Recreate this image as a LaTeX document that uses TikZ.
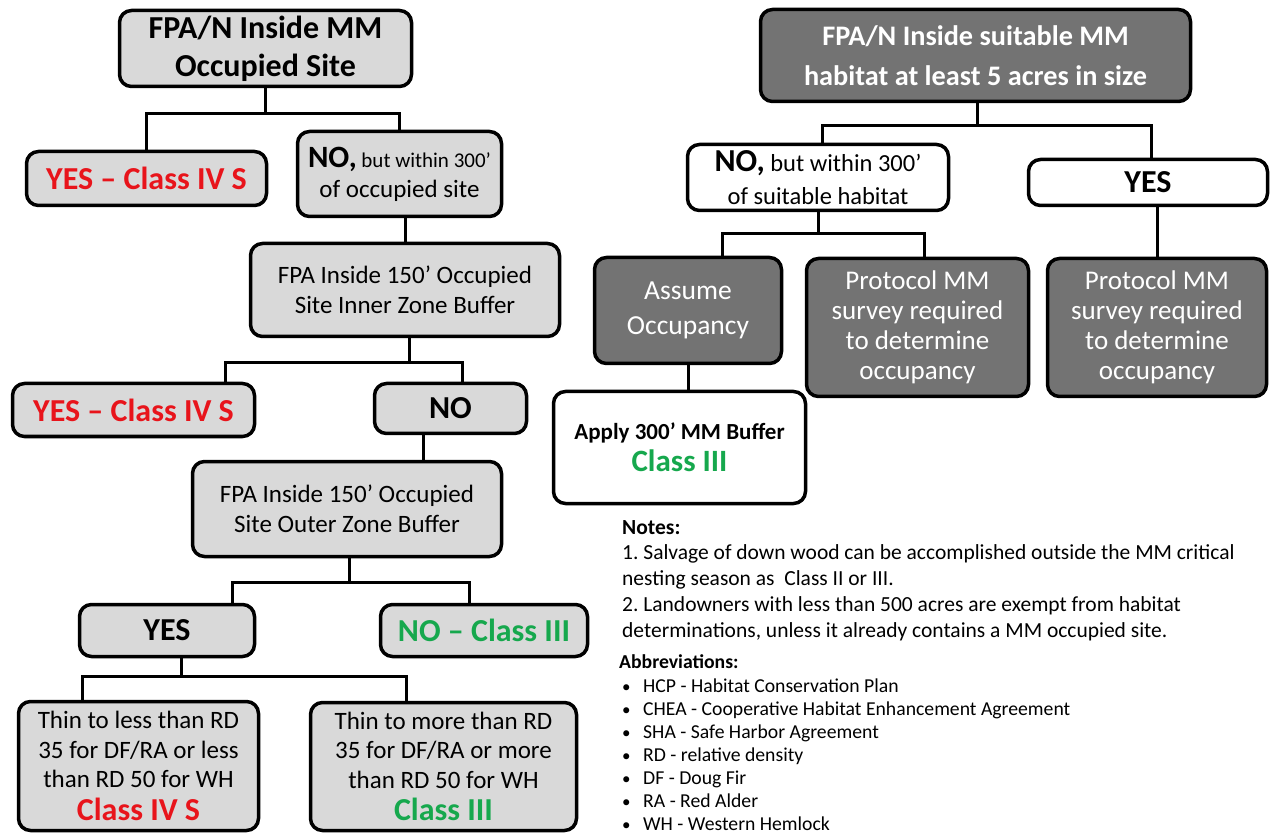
\documentclass[tikz,border=0pt]{standalone}
\usepackage{fontspec}
\setmainfont{Carlito}
\frenchspacing
\definecolor{boxgray}{HTML}{D9D9D9}
\definecolor{boxdark}{HTML}{737373}
\definecolor{classred}{HTML}{E8141B}
\definecolor{classgreen}{HTML}{16A84D}
\newcommand{\bigbold}{\fontsize{32}{38}\selectfont\bfseries}
\newcommand{\midtext}{\fontsize{25}{30}\selectfont}
\begin{document}
\begin{tikzpicture}[x=1pt, y=-1pt,
    box/.style={draw, line width=3.5pt, rounded corners=12pt, align=center, inner sep=0pt},
    greybox/.style={box, fill=boxgray},
    darkbox/.style={box, fill=boxdark, text=white},
    whitebox/.style={box, fill=white},
    link/.style={line width=3pt},
    noteline/.style={anchor=base west, inner sep=0pt, font=\fontsize{21.5}{25}\selectfont},
    abbrline/.style={anchor=base west, inner sep=0pt, font=\fontsize{19.7}{23}\selectfont}]
  \useasboundingbox (0,0) rectangle (1270,834);

  % occupied site tree
  \node[greybox, minimum width=292, minimum height=76, font=\bigbold] (occ) at (265.5,48.5) {FPA/N Inside MM\\Occupied Site};
  \node[greybox, minimum width=240, minimum height=54, font=\bigbold, text=classred] (yesA) at (146.5,178.5) {YES – Class IV S};
  \node[greybox, minimum width=204, minimum height=85, font=\midtext] (noA) at (399.5,174) {{\fontsize{31}{31}\selectfont\bfseries NO,}{\fontsize{21}{25}\selectfont{} but within 300’}\\of occupied site};
  \node[greybox, minimum width=309, minimum height=93, font=\midtext] (inner) at (405,290) {FPA Inside 150’ Occupied\\Site Inner Zone Buffer};
  \node[greybox, minimum width=242, minimum height=53, font=\bigbold, text=classred] (yesB) at (133.5,410) {YES – Class IV S};
  \node[greybox, minimum width=152, minimum height=50, font=\bigbold] (noB) at (450.5,408.5) {NO};
  \node[greybox, minimum width=309, minimum height=95, font=\midtext] (outer) at (347,509) {FPA Inside 150’ Occupied\\Site Outer Zone Buffer};
  \node[greybox, minimum width=175, minimum height=52, font=\bigbold] (yesC) at (167,630.5) {YES};
  \node[greybox, minimum width=207, minimum height=52, font=\bigbold, text=classgreen] (noC) at (484,630.5) {NO – Class III};
  \node[greybox, minimum width=240, minimum height=129, font=\fontsize{25}{29.5}\selectfont] (thinL) at (138.5,766) {Thin to less than RD\\35 for DF/RA or less\\than RD 50 for WH\\[3pt]{\bigbold\color{classred}Class IV S}};
  \node[greybox, minimum width=266, minimum height=128, font=\fontsize{25}{29.5}\selectfont] (thinM) at (443.5,766.5) {Thin to more than RD\\35 for DF/RA or more\\than RD 50 for WH\\[3pt]{\bigbold\color{classgreen}Class III}};

  \draw[link] (occ.south) -- ++(0,25) coordinate (j1);
  \draw[link] (yesA.north) |- (j1) -| (noA.north);
  \draw[link] ([xshift=6]noA.south) -- ++(0,24);
  \draw[link] ([xshift=4]inner.south) -- ++(0,24) coordinate (j2);
  \draw[link] ([xshift=92]yesB.north) |- (j2) -| ([xshift=12]noB.north);
  \draw[link] ([xshift=76]outer.north) -- ++(0,-25);
  \draw[link] ([xshift=2]outer.south) -- ++(0,24) coordinate (j3);
  \draw[link] ([xshift=65]yesC.north) |- (j3) -| ([xshift=-15]noC.north);
  \draw[link] ([xshift=14]yesC.south) -- ++(0,18) coordinate (j4);
  \draw[link] ([xshift=-56]thinL.north) |- (j4) -| ([xshift=-37]thinM.north);

  % suitable habitat tree
  \node[darkbox, minimum width=430, minimum height=92, font=\fontsize{28.3}{40}\selectfont\bfseries] (site) at (975.5,55.5) {FPA/N Inside suitable MM\\habitat at least 5 acres in size};
  \node[whitebox, minimum width=261, minimum height=66, font=\fontsize{24.5}{33}\selectfont] (noR) at (818,177.5) {{\fontsize{32}{32}\selectfont\bfseries NO,} but within 300’\\of suitable habitat};
  \node[whitebox, minimum width=239, minimum height=46, font=\bigbold] (yesR) at (1148,182.5) {YES};
  \node[darkbox, minimum width=187, minimum height=106, font=\fontsize{27.5}{35}\selectfont] (assume) at (688,310.5) {Assume\\Occupancy};
  \node[darkbox, minimum width=222, minimum height=138, font=\fontsize{27}{30}\selectfont] (prot1) at (917.5,327.5) {Protocol MM\\survey required\\to determine\\occupancy};
  \node[darkbox, minimum width=219, minimum height=138, font=\fontsize{27}{30}\selectfont] (prot2) at (1157,327.5) {Protocol MM\\survey required\\to determine\\occupancy};
  \node[whitebox, minimum width=252, minimum height=112, font=\fontsize{23}{32}\selectfont\bfseries] (apply) at (679.5,447.5) {Apply 300’ MM Buffer\\{\fontsize{31}{31}\selectfont\color{classgreen}Class III}};

  \draw[link] ([xshift=2]site.south) -- ++(0,22) coordinate (j5);
  \draw[link] ([xshift=4]noR.north) |- (j5) -| ([xshift=3]yesR.north);
  \draw[link] (noR.south) -- ++(0,21) coordinate (j6);
  \draw[link] ([xshift=34]assume.north) |- (j6) -| ([xshift=7]prot1.north);
  \draw[link] (prot2.north) -- ++(0,-50);
  \draw[link] (assume.south) -- ++(0,25);

  % notes and abbreviations
  \node[noteline] (notes) at (622,534) {\textbf{Notes:}};
  \foreach \txt [count=\i] in {{1. Salvage of down wood can be accomplished outside the MM critical},
      {nesting season as\ \ Class II or III.},
      {2. Landowners with less than 500 acres are exempt from habitat},
      {determinations, unless it already contains a MM occupied site.}}
    \node[noteline] (note\i) at (622,534+25.8*\i) {\txt};
  \node[abbrline] (abbr) at (619,668) {\textbf{Abbreviations:}};
  \foreach \txt [count=\i] in {HCP - Habitat Conservation Plan,
      CHEA - Cooperative Habitat Enhancement Agreement,
      SHA - Safe Harbor Agreement,
      RD - relative density,
      DF - Doug Fir,
      RA - Red Alder,
      WH - Western Hemlock}
    \node[abbrline] (abbr\i) at (622,669.5+23.05*\i) {\makebox[21pt][l]{\fontsize{17}{20}\selectfont•}\txt};
\end{tikzpicture}
\end{document}
